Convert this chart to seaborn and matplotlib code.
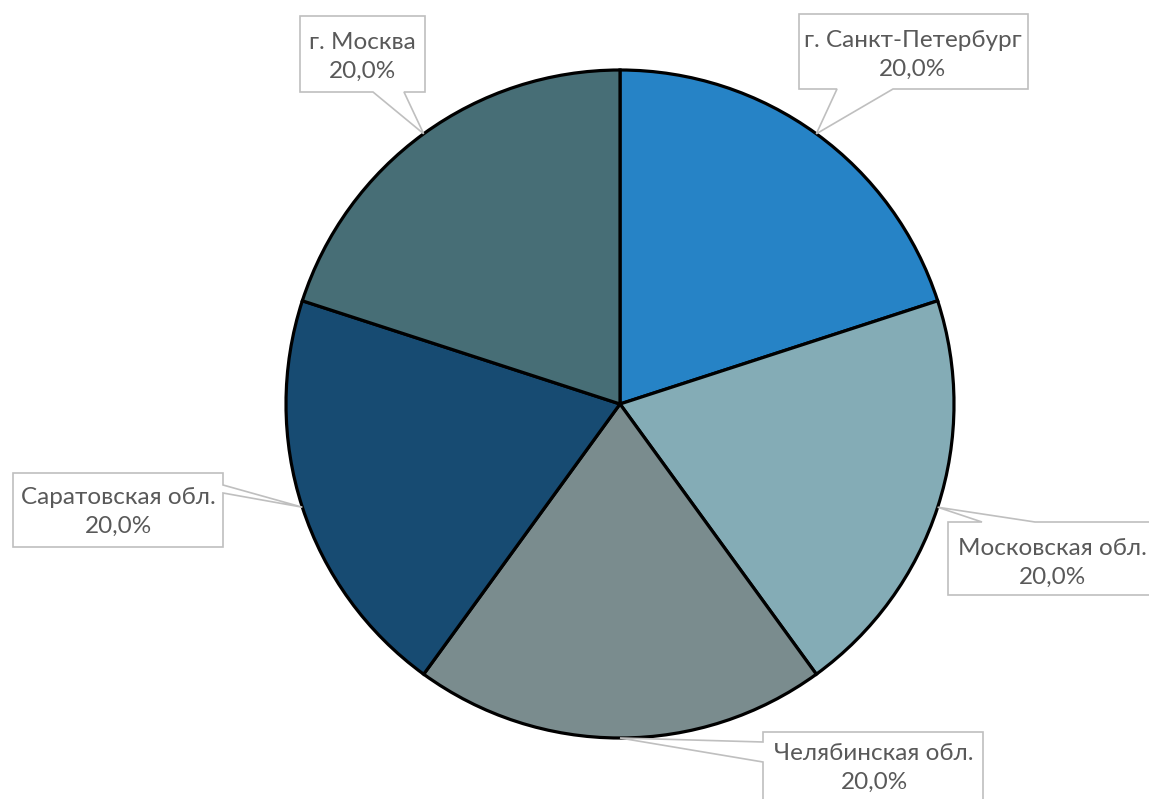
import matplotlib
matplotlib.use('Agg')
import matplotlib.pyplot as plt
from matplotlib.patches import Polygon
import seaborn as sns
import numpy as np

sns.set_theme(style='white')
plt.rcParams['font.family'] = ['Lato', 'DejaVu Sans']

# data
regions = ['г. Санкт-Петербург', 'Московская обл.', 'Челябинская обл.',
           'Саратовская обл.', 'г. Москва']
shares = [20, 20, 20, 20, 20]
colors = ['#2683C6', '#84ACB6', '#7A8C8E', '#174B72', '#476E76']

W, H = 1149, 799
cx, cy, R = 620, 404, 334   # pie centre/radius in pixels (y down)

# callout layout in pixels (y down): box, side of pointer, pointer base, text centre
callouts = [
    dict(box=(799, 14, 1028, 89), side='bottom', base=(837, 893), text=(913, 55)),
    dict(box=(948, 522, 1165, 595), side='top', base=(982, 1035), text=(1052, 563)),
    dict(box=(763, 732, 983, 815), side='left', base=(742, 762), text=(874, 768)),
    dict(box=(13, 473, 223, 547), side='right', base=(485, 493), text=(118, 512)),
    dict(box=(300, 16, 425, 92), side='bottom', base=(373, 404), text=(362, 57)),
]

fig = plt.figure(figsize=(W / 100, H / 100), dpi=100)
ax = fig.add_axes([0, 0, 1, 1])

wedges, _ = ax.pie(shares, colors=colors, startangle=90, counterclock=False,
                   center=(cx, H - cy), radius=R, frame=True,
                   wedgeprops=dict(edgecolor='black', linewidth=2.3))
ax.set_xlim(0, W)
ax.set_ylim(0, H)
ax.set_aspect('equal')
ax.axis('off')

total = sum(shares)
for w, name, val, c in zip(wedges, regions, shares, callouts):
    mid = np.deg2rad((w.theta1 + w.theta2) / 2)
    tx, ty = cx + R * np.cos(mid), cy - R * np.sin(mid)
    x0, y0, x1, y1 = c['box']
    b1, b2 = c['base']
    if c['side'] == 'bottom':
        pts = [(x0, y0), (x1, y0), (x1, y1), (b2, y1), (tx, ty), (b1, y1), (x0, y1)]
    elif c['side'] == 'top':
        pts = [(x0, y0), (b1, y0), (tx, ty), (b2, y0), (x1, y0), (x1, y1), (x0, y1)]
    elif c['side'] == 'left':
        pts = [(x0, y0), (x1, y0), (x1, y1), (x0, y1), (x0, b2), (tx, ty), (x0, b1)]
    else:
        pts = [(x0, y0), (x1, y0), (x1, b1), (tx, ty), (x1, b2), (x1, y1), (x0, y1)]
    pts = [(px, H - py) for px, py in pts]
    ax.add_patch(Polygon(pts, closed=True, facecolor='white', edgecolor='#BFBFBF',
                         linewidth=1.2, zorder=3))
    pct = f'{val / total * 100:.1f}'.replace('.', ',') + '%'
    ax.text(c['text'][0], H - c['text'][1], f'{name}\n{pct}', ha='center', va='center',
            fontsize=17.5, color='#595959', linespacing=1.45, zorder=4)

fig.savefig('out.png', dpi=100)
